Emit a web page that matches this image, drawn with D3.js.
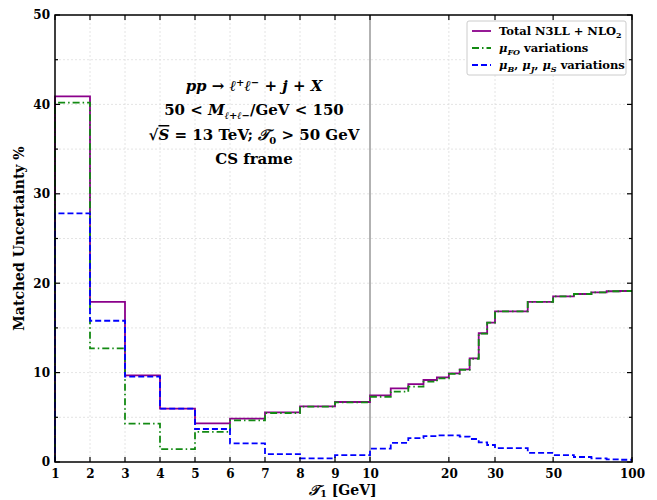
<!DOCTYPE html>
<html>
<head>
<meta charset="utf-8">
<script src="https://cdn.jsdelivr.net/npm/d3@7"></script>
<style>
  body { margin: 0; background: #fff; }
  text { font-family: "DejaVu Serif", serif; font-weight: bold; }
</style>
</head>
<body>
<svg width="657" height="500"></svg>
<script>
// bin edges: linear 1..10, then log 10..100
const edges = [1, 2, 3, 4, 5, 6, 7, 8, 9, 10, 12, 14, 16, 18, 20, 22, 24, 26, 28, 30, 40, 50, 60, 70, 80, 90, 100];
const total = [40.9, 17.9, 9.7, 5.96, 4.33, 4.85, 5.56, 6.23, 6.71,
  7.46, 8.24, 8.72, 9.17, 9.47, 9.92, 10.37, 11.6, 14.4, 15.6,
  16.85, 17.9, 18.53, 18.79, 18.98, 19.1, 19.13];
const muFO = [40.2, 12.7, 4.29, 1.45, 3.36, 4.66, 5.48, 6.19, 6.68,
  7.3, 7.87, 8.43, 8.98, 9.36, 9.85, 10.3, 11.55, 14.35, 15.6,
  16.85, 17.9, 18.53, 18.79, 18.98, 19.1, 19.13];
const muBJS = [27.8, 15.8, 9.54, 5.96, 3.69, 2.09, 0.89, 0.41, 0.78,
  1.5, 2.15, 2.67, 2.9, 2.98, 2.98, 2.83, 2.57, 2.2, 1.9,
  1.55, 1.02, 0.78, 0.56, 0.4, 0.3, 0.25];
const linTicks = [1, 2, 3, 4, 5, 6, 7, 8, 9, 10];
const logTicks = [20, 30, 50, 100];
const yTicks = [0, 10, 20, 30, 40, 50];

const svg = d3.select("svg");
const pLeft = 55, pRight = 632, pTop = 15, pBottom = 462;

const xLin = d3.scaleLinear().domain([1, 10]).range([pLeft, 370]);
const xLog = d3.scaleLog().domain([10, 100]).range([370, pRight]);
const x = v => v <= 10 ? xLin(v) : xLog(v);
const y = d3.scaleLinear().domain([0, 50]).range([pBottom, pTop]);

// grid
const grid = svg.append("g").attr("stroke", "#ddd").attr("stroke-width", 0.8).attr("stroke-dasharray", "2,2");
d3.range(5, 50, 5).forEach(v => {
  grid.append("line").attr("x1", pLeft).attr("x2", pRight).attr("y1", y(v)).attr("y2", y(v));
});
[2, 3, 4, 5, 6, 7, 8, 9, 20, 30, 50].forEach(v => {
  grid.append("line").attr("x1", x(v)).attr("x2", x(v)).attr("y1", pTop).attr("y2", pBottom);
});

// divider at 10 GeV
svg.append("line")
  .attr("x1", x(10)).attr("x2", x(10)).attr("y1", pTop).attr("y2", pBottom)
  .attr("stroke", "#999").attr("stroke-width", 1.5);

// step lines
const stepLine = d3.line().x(d => x(d[0])).y(d => y(d[1])).curve(d3.curveStepAfter);
function pts(vals) {
  const p = [[edges[0], 0]];
  vals.forEach((v, i) => p.push([edges[i], v]));
  p.push([edges[edges.length - 1], vals[vals.length - 1]]);
  return p;
}
const series = [
  { vals: total, color: "#8b008b", dash: null },
  { vals: muFO, color: "#138a13", dash: "7,3,1.5,3" },
  { vals: muBJS, color: "#0000ff", dash: "6,3" }
];
series.forEach(s => {
  svg.append("path")
    .attr("d", stepLine(pts(s.vals)))
    .attr("fill", "none")
    .attr("stroke", s.color)
    .attr("stroke-width", 1.8)
    .attr("stroke-dasharray", s.dash);
});

// frame
svg.append("rect").attr("x", pLeft).attr("y", pTop).attr("width", pRight - pLeft).attr("height", pBottom - pTop)
  .attr("fill", "none").attr("stroke", "#000").attr("stroke-width", 1.5);

// ticks (inward)
const ticks = svg.append("g").attr("stroke", "#000").attr("stroke-width", 1.2);
linTicks.concat(logTicks).forEach(v => {
  ticks.append("line").attr("x1", x(v)).attr("x2", x(v)).attr("y1", pBottom).attr("y2", pBottom - 5);
  ticks.append("line").attr("x1", x(v)).attr("x2", x(v)).attr("y1", pTop).attr("y2", pTop + 5);
});
d3.range(0, 55, 5).forEach(v => {
  const len = v % 10 === 0 ? 5 : 3;
  ticks.append("line").attr("x1", pLeft).attr("x2", pLeft + len).attr("y1", y(v)).attr("y2", y(v));
  ticks.append("line").attr("x1", pRight).attr("x2", pRight - len).attr("y1", y(v)).attr("y2", y(v));
});

// tick labels
const xAxisLin = d3.axisBottom(xLin).tickValues(linTicks).tickSize(0).tickPadding(7).tickFormat(d3.format("d"));
const xAxisLog = d3.axisBottom(xLog).tickValues(logTicks).tickSize(0).tickPadding(7).tickFormat(d3.format("d"));
const yAxis = d3.axisLeft(y).tickValues(yTicks).tickSize(0).tickPadding(5);
[[xAxisLin, `translate(0,${pBottom})`], [xAxisLog, `translate(0,${pBottom})`], [yAxis, `translate(${pLeft},0)`]]
  .forEach(([ax, tr]) => {
    const g = svg.append("g").attr("transform", tr).call(ax);
    g.select(".domain").remove();
    g.selectAll("text").style("font-family", "DejaVu Serif").style("font-weight", "bold").style("font-size", "12px").attr("fill", "#000");
  });

// axis titles
svg.append("text")
  .attr("transform", `translate(24,${(pTop + pBottom) / 2}) rotate(-90)`)
  .attr("text-anchor", "middle").style("font-size", "14px")
  .text("Matched Uncertainty %");
const xt = svg.append("text").attr("x", 343).attr("y", 495).attr("text-anchor", "middle").style("font-size", "14px");
xt.append("tspan").style("font-style", "italic").text("𝒯");
xt.append("tspan").attr("dy", 2).style("font-size", "9.5px").text("1");
xt.append("tspan").attr("dy", -2).text("   [GeV]");

// annotation
const ann = svg.append("g").attr("text-anchor", "middle").style("font-size", "15px");
const cx = 254;
const l1 = ann.append("text").attr("x", cx).attr("y", 91);
l1.append("tspan").style("font-style", "italic").text("pp");
l1.append("tspan").text(" → ");
l1.append("tspan").style("font-style", "italic").text("ℓ");
l1.append("tspan").attr("dy", -5).style("font-size", "10px").text("+");
l1.append("tspan").attr("dy", 5).style("font-style", "italic").text("ℓ");
l1.append("tspan").attr("dy", -5).style("font-size", "10px").text("−");
l1.append("tspan").attr("dy", 5).text(" + ");
l1.append("tspan").style("font-style", "italic").text("j");
l1.append("tspan").text(" + ");
l1.append("tspan").style("font-style", "italic").text("X");

const l2 = ann.append("text").attr("x", cx).attr("y", 115);
l2.append("tspan").text("50 < ");
l2.append("tspan").style("font-style", "italic").text("M");
l2.append("tspan").attr("dy", 4).style("font-size", "10px").style("font-style", "italic").text("ℓ+ℓ−");
l2.append("tspan").attr("dy", -4).text("/GeV < 150");

const l3 = ann.append("text").attr("x", cx).attr("y", 140);
l3.append("tspan").text("√");
l3.append("tspan").style("font-style", "italic").style("text-decoration", "overline").text("S");
l3.append("tspan").text(" = 13 TeV; ");
l3.append("tspan").style("font-style", "italic").text("𝒯");
l3.append("tspan").attr("dy", 4).style("font-size", "10px").text("0");
l3.append("tspan").attr("dy", -4).text(" > 50 GeV");

ann.append("text").attr("x", cx).attr("y", 164).text("CS frame");

// legend
const lg = svg.append("g").attr("transform", "translate(467,21)");
lg.append("rect").attr("width", 159).attr("height", 54).attr("rx", 2)
  .attr("fill", "#fff").attr("stroke", "#ccc").attr("stroke-width", 1);
const legendItems = [
  { color: "#8b008b", dash: null, label: [["Total N3LL + NLO", 0], ["2", 1]] },
  { color: "#138a13", dash: "7,3,1.5,3", label: [["μ", 0, true], ["FO", 1, true], [" variations", 0]] },
  { color: "#0000ff", dash: "6,3", label: [["μ", 0, true], ["B", 1, true], [", ", 0], ["μ", 0, true], ["J", 1, true], [", ", 0], ["μ", 0, true], ["S", 1, true], [" variations", 0]] }
];
legendItems.forEach((d, i) => {
  const yy = 10 + i * 17;
  lg.append("line").attr("x1", 5).attr("x2", 24).attr("y1", yy).attr("y2", yy)
    .attr("stroke", d.color).attr("stroke-width", 1.8).attr("stroke-dasharray", d.dash);
  const t = lg.append("text").attr("x", 32).attr("y", yy + 4).style("font-size", "11.5px");
  let prevSub = 0;
  d.label.forEach(([s, sub, it]) => {
    const ts = t.append("tspan").text(s).attr("dy", (sub - prevSub) * 3);
    if (sub) ts.style("font-size", "8px");
    if (it) ts.style("font-style", "italic");
    prevSub = sub;
  });
});
</script>
</body>
</html>
